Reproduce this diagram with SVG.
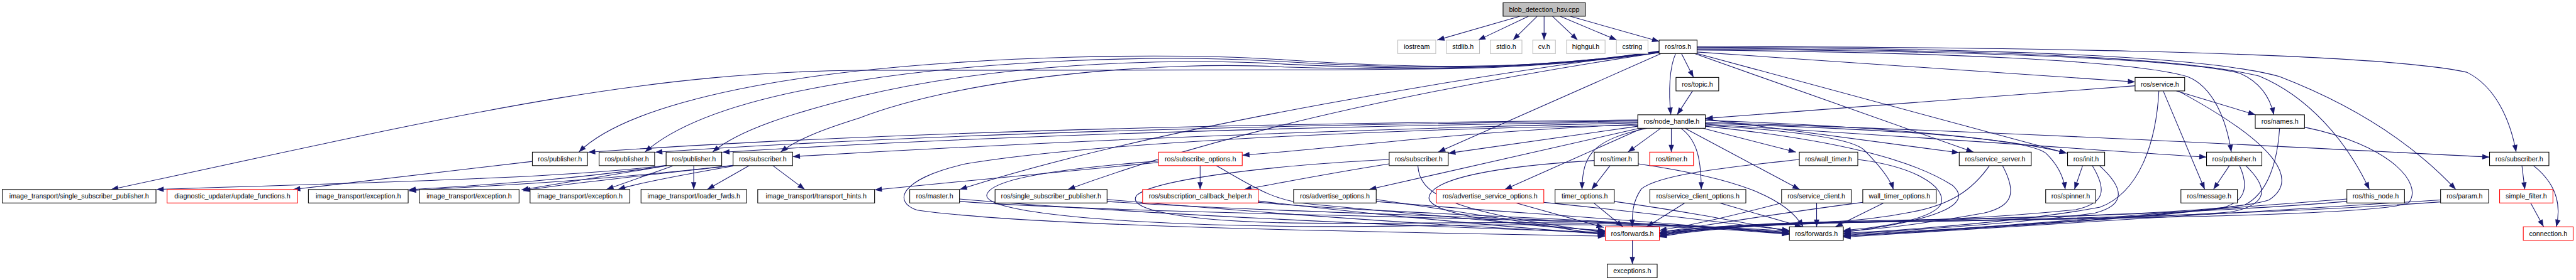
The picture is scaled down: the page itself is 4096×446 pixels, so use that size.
<svg xmlns="http://www.w3.org/2000/svg" width="4096" height="446" viewBox="0 0 4096 446">
<defs>
<marker id="a" markerWidth="15" markerHeight="11" refX="15" refY="5.5" orient="auto" markerUnits="userSpaceOnUse" overflow="visible"><path d="M0,0 L15,5.5 L0,11 z" fill="#191970"/></marker>
<style>
.e{fill:none;stroke:#191970;stroke-width:1.4;marker-end:url(#a)}
.n rect{fill:#fff;stroke:#000;stroke-width:1.4}
.g rect{stroke:#bfbfbf}
.r rect{stroke:#ff0000}
.b rect{fill:#bfbfbf}
text{font-family:"Liberation Sans",Arial,sans-serif;font-size:14px;text-anchor:middle;fill:#000}
</style>
</defs>
<rect width="4096" height="446" fill="#fff"/>
<g transform="scale(0.767616)">
<g id="edges">
<path class="e" d="M3148,34 L2977,83.2"/>
<path class="e" d="M3166,34 L3062,83.2"/>
<path class="e" d="M3184,34 L3134,83.2"/>
<path class="e" d="M3198.5,34 L3198.5,83.2"/>
<path class="e" d="M3216,34 L3268,83.2"/>
<path class="e" d="M3232,34 L3349,83.2"/>
<path class="e" d="M3253,34 L3437,86"/>
<path class="e" d="M3483,111.2 L3508,160.7"/>
<path class="e" d="M3471,111.2 C3458,140 3456,190 3461,238.2"/>
<path class="e" d="M3506,188.7 L3474,238.2"/>
<path class="e" d="M3441,111.2 L2979,315.7"/>
<path class="e" d="M3515.3,108 L4422.7,170"/>
<path class="e" d="M3515.3,111 L4281,318"/>
<path class="e" d="M3510,111.2 L4088,315.7"/>
<path class="e" d="M3437,107 C3100,150 2400,260 1988,393.2"/>
<path class="e" d="M3437,109 C3100,160 2600,250 2212,393.2"/>
<path class="e" d="M3437,108 C3150,146 2850,145 2660,145 L1780,146 C1300,150 900,250 230,393.2"/>
<path class="e" d="M3437,106 C3150,150 2900,140 2660,124 C2400,108 2050,118 1780,147 C1500,178 1280,235 1199,315.7"/>
<path class="e" d="M3437,107 C3150,150 2900,142 2660,128 C2400,112 2050,125 1780,167 C1560,200 1410,250 1336,315.7"/>
<path class="e" d="M3437,108 C3150,150 2900,144 2660,133 C2400,118 2050,135 1780,200 C1640,235 1530,270 1476,315.7"/>
<path class="e" d="M3437,109 C3150,150 2900,146 2660,139 C2400,125 2000,160 1780,245 C1700,270 1650,290 1617,315.7"/>
<path class="e" d="M3515.3,104 C4000,108 4420,125 4531,159 C4585,180 4612,250 4622,315.7"/>
<path class="e" d="M3515.3,102 C4000,105 4500,118 4640,152 C4680,170 4702,200 4710,238.2"/>
<path class="e" d="M3515.3,100 C4000,103 4500,113 4680,158 C4780,200 4860,290 4908,393.2"/>
<path class="e" d="M3515.3,98 C4000,100 4550,110 4722,159 C4880,220 5000,300 5087,393.2"/>
<path class="e" d="M3515.3,96 C4000,98 4900,103 5110,150 C5170,180 5200,250 5212,315.7"/>
<path class="e" d="M4422.7,178 L3533,245.7"/>
<path class="e" d="M4508,188.7 L4672,238.2"/>
<path class="e" d="M4481,188.7 L4567,393.2"/>
<path class="e" d="M4472,188.7 C4466,300 4430,400 4350,430 C4200,458 3950,478 3818.4,484"/>
<path class="e" d="M4512,188.7 C4700,290 4770,370 4700,415 C4600,450 3950,455 3800,460 C3600,465 3480,475 3437.3,486"/>
<path class="e" d="M4722,266.2 C4718,330 4700,400 4650,425 C4450,455 3950,480 3818.4,488"/>
<path class="e" d="M4773.7,264 C4950,300 5020,380 4990,420 C4950,450 4200,455 3800,462 C3600,466 3480,478 3437.3,488"/>
<path class="e" d="M4618,343.7 L4585,393.2"/>
<path class="e" d="M4639,343.7 C4660,390 4650,420 4600,432 C4400,458 3950,482 3818.4,490"/>
<path class="e" d="M4652,343.7 C4700,390 4700,425 4620,440 C4400,458 3950,458 3780,463 C3600,467 3480,478 3437.3,490"/>
<path class="e" d="M4314,343.7 L4297,393.2"/>
<path class="e" d="M4349,343.7 C4400,390 4405,425 4340,442 C4200,462 3950,478 3818.4,486"/>
<path class="e" d="M4334,343.7 C4365,395 4360,422 4300,435 C4100,455 3950,458 3790,463 C3600,468 3480,480 3437.3,484"/>
<path class="e" d="M4148,343.7 C4178,400 4170,428 4110,442 C4000,462 3900,475 3818.4,480"/>
<path class="e" d="M4121,343.7 C4085,395 4040,425 3960,440 C3900,452 3850,458 3780,461 C3600,466 3480,476 3437.3,482"/>
<path class="e" d="M4861.4,413 C4500,440 4000,482 3818.4,490"/>
<path class="e" d="M4861.4,418 C4500,448 4000,457 3780,462 C3600,467 3480,480 3437.3,490"/>
<path class="e" d="M5055.5,415 C4600,442 4000,484 3818.4,492"/>
<path class="e" d="M5055.5,419 C4600,452 4000,458 3780,463 C3600,468 3480,482 3437.3,492"/>
<path class="e" d="M3727.2,331 C3600,345 3440,360 3400,392 C3380,420 3381,450 3381,470.7"/>
<path class="e" d="M3848.3,331 C3960,345 4035,385 4020,425 C4000,455 3900,472 3818.4,478"/>
<path class="e" d="M3532.5,262 C3800,290 3960,330 4045,385 C4090,425 4010,458 3818.4,482"/>
<path class="e" d="M3335,343.7 L3297,393.2"/>
<path class="e" d="M3393.6,340 C3600,370 3700,410 3735,470.7"/>
<path class="e" d="M3302.4,333 C3100,345 2965,370 2960,410 C2958,440 3100,468 3325,478"/>
<path class="e" d="M2877.6,340 C2750,360 2650,380 2577,393.2"/>
<path class="e" d="M2937,343.7 C2940,400 2990,440 3325,482"/>
<path class="e" d="M2877.6,331 C2600,345 2390,375 2355,405 C2330,435 2450,460 2700,463 C3000,466 3300,450 3706.6,484"/>
<path class="e" d="M2486,343.7 L2486,393.2"/>
<path class="e" d="M2399.8,337 L1811.7,394"/>
<path class="e" d="M2519.5,343.7 C2600,390 2640,418 2720,424 C2900,440 3200,470 3325,480"/>
<path class="e" d="M2399.8,334 C2200,350 2050,370 2044,405 C2040,440 2300,466 2700,470 C3000,472 3300,452 3706.6,486"/>
<path class="e" d="M3392.5,260 C3000,265 2300,290 2000,340 C1860,372 1850,420 1900,436 C2150,472 2900,482 3325,490"/>
<path class="e" d="M1987.5,413 C2300,440 2900,470 3325,482"/>
<path class="e" d="M1987.5,418 C2400,448 3300,450 3706.6,480"/>
<path class="e" d="M2293.2,414 C2600,440 3000,470 3325,484"/>
<path class="e" d="M2293.2,418 C2700,445 3300,452 3706.6,482"/>
<path class="e" d="M2606.2,417 C2800,440 3100,470 3325,486"/>
<path class="e" d="M2606.2,420 C2900,445 3300,452 3706.6,484"/>
<path class="e" d="M2850.7,414 C3000,435 3200,468 3325,488"/>
<path class="e" d="M2850.7,418 C3100,440 3350,452 3706.6,486"/>
<path class="e" d="M3140,421.2 L3322,472"/>
<path class="e" d="M3197.9,420 C3400,440 3550,460 3706.6,478"/>
<path class="e" d="M3301.5,421.2 L3362,470.7"/>
<path class="e" d="M3343.8,418 C3500,440 3600,460 3706.6,480"/>
<path class="e" d="M3490,421.2 L3411,470.7"/>
<path class="e" d="M3562,421.2 L3733,470.7"/>
<path class="e" d="M3690.4,421 C3600,445 3500,468 3437.3,478"/>
<path class="e" d="M3763,421.2 L3763,470.7"/>
<path class="e" d="M3858.6,420 C3700,440 3520,470 3437.3,482"/>
<path class="e" d="M3902,421.2 L3802,470.7"/>
<path class="e" d="M3392.5,249 C2800,254 1900,268 1218,316"/>
<path class="e" d="M3392.5,251 C2800,257 2000,272 1357,316"/>
<path class="e" d="M3392.5,253 C2800,261 2100,278 1496,316"/>
<path class="e" d="M3392.5,255 C2800,268 2200,292 1642,325"/>
<path class="e" d="M3392.5,258 C3000,275 2800,305 2573.2,322"/>
<path class="e" d="M3392.5,262 L3000,318"/>
<path class="e" d="M3396,266.2 L2836,393.2"/>
<path class="e" d="M3402,266.2 L3117,393.2"/>
<path class="e" d="M3440,266.2 L3372,315.7"/>
<path class="e" d="M3462,266.2 L3462,315.7"/>
<path class="e" d="M3412,266.2 C3300,290 3278,320 3277,393.2"/>
<path class="e" d="M3482,266.2 C3515,290 3524,330 3524,393.2"/>
<path class="e" d="M3527,266.2 L3720,315.7"/>
<path class="e" d="M3490,266.2 L3728,393.2"/>
<path class="e" d="M3532.5,260 C3700,270 3830,285 3860,310 C3890,340 3915,370 3922,393.2"/>
<path class="e" d="M3532.5,247 L4058.4,317"/>
<path class="e" d="M3532.5,250 C3900,262 4180,290 4281,318"/>
<path class="e" d="M3532.5,256 C3900,268 4210,285 4240,320 C4265,345 4275,370 4278,393.2"/>
<path class="e" d="M3532.5,258 C4000,285 4400,316 4570.7,326"/>
<path class="e" d="M3532.5,254 C4200,275 4800,308 5156.9,326"/>
<path class="e" d="M5224,343.7 L5230,393.2"/>
<path class="e" d="M5248,343.7 C5300,385 5305,430 5295,470.7"/>
<path class="e" d="M5242,421.2 L5269,470.7"/>
<path class="e" d="M3381.3,498.7 L3381.3,548.2"/>
<path class="e" d="M1102.7,335 L607,393.2"/>
<path class="e" d="M1380.6,343 C1150,372 700,380 324,393.2"/>
<path class="e" d="M1380.6,344 C1150,378 950,386 846,394"/>
<path class="e" d="M1518.5,343 C1200,380 950,388 847,396"/>
<path class="e" d="M1380.6,344 C1250,365 1150,382 1080,394"/>
<path class="e" d="M1518.5,343.5 C1300,368 1150,384 1084,396"/>
<path class="e" d="M1393,344.6 L1256,393.2"/>
<path class="e" d="M1518.5,344.5 C1400,365 1320,380 1280,393.2"/>
<path class="e" d="M1437,343.7 L1437,393.2"/>
<path class="e" d="M1552,343.7 L1465,393.2"/>
<path class="e" d="M1601,343.7 L1667,393.2"/>
</g>
<g id="n0" class="n b"><rect x="3113.5" y="5.7" width="170.5" height="28"/><text x="3198.75" y="24.7">blob_detection_hsv.cpp</text></g>
<g id="n1" class="n g"><rect x="2895.4" y="83.2" width="78.7" height="28"/><text x="2934.75" y="102.2">iostream</text></g>
<g id="n2" class="n g"><rect x="2996.4" y="83.2" width="68.3" height="28"/><text x="3030.55" y="102.2">stdlib.h</text></g>
<g id="n3" class="n g"><rect x="3087.1" y="83.2" width="65.5" height="28"/><text x="3119.85" y="102.2">stdio.h</text></g>
<g id="n4" class="n g"><rect x="3175" y="83.2" width="47" height="28"/><text x="3198.5" y="102.2">cv.h</text></g>
<g id="n5" class="n g"><rect x="3245" y="83.2" width="79.8" height="28"/><text x="3284.9" y="102.2">highgui.h</text></g>
<g id="n6" class="n g"><rect x="3348.3" y="83.2" width="65.4" height="28"/><text x="3381" y="102.2">cstring</text></g>
<g id="n7" class="n"><rect x="3436.7" y="83.2" width="78.6" height="28"/><text x="3476" y="102.2">ros/ros.h</text></g>
<g id="n8" class="n"><rect x="3471.7" y="160.7" width="88.5" height="28"/><text x="3515.95" y="179.7">ros/topic.h</text></g>
<g id="n9" class="n"><rect x="4422.7" y="160.7" width="102.7" height="28"/><text x="4474.05" y="179.7">ros/service.h</text></g>
<g id="n10" class="n"><rect x="3392.5" y="238.2" width="140" height="28"/><text x="3462.5" y="257.2">ros/node_handle.h</text></g>
<g id="n11" class="n"><rect x="4671.6" y="238.2" width="102.1" height="28"/><text x="4722.65" y="257.2">ros/names.h</text></g>
<g id="n12" class="n"><rect x="1102.7" y="315.7" width="114.2" height="28"/><text x="1159.8" y="334.7">ros/publisher.h</text></g>
<g id="n13" class="n"><rect x="1241" y="315.7" width="115" height="28"/><text x="1298.5" y="334.7">ros/publisher.h</text></g>
<g id="n14" class="n"><rect x="1379.8" y="315.7" width="115.2" height="28"/><text x="1437.4" y="334.7">ros/publisher.h</text></g>
<g id="n15" class="n"><rect x="1518.5" y="315.7" width="123.3" height="28"/><text x="1580.15" y="334.7">ros/subscriber.h</text></g>
<g id="n16" class="n r"><rect x="2399.8" y="315.7" width="173.4" height="28"/><text x="2486.5" y="334.7">ros/subscribe_options.h</text></g>
<g id="n17" class="n"><rect x="2877.6" y="315.7" width="122.3" height="28"/><text x="2938.75" y="334.7">ros/subscriber.h</text></g>
<g id="n18" class="n"><rect x="3302.4" y="315.7" width="91.2" height="28"/><text x="3348" y="334.7">ros/timer.h</text></g>
<g id="n19" class="n r"><rect x="3417.2" y="315.7" width="90.7" height="28"/><text x="3462.55" y="334.7">ros/timer.h</text></g>
<g id="n20" class="n"><rect x="3727.2" y="315.7" width="121.1" height="28"/><text x="3787.75" y="334.7">ros/wall_timer.h</text></g>
<g id="n21" class="n"><rect x="4058.4" y="315.7" width="149.2" height="28"/><text x="4133" y="334.7">ros/service_server.h</text></g>
<g id="n22" class="n"><rect x="4282.8" y="315.7" width="76.9" height="28"/><text x="4321.25" y="334.7">ros/init.h</text></g>
<g id="n23" class="n"><rect x="4570.7" y="315.7" width="114.6" height="28"/><text x="4628" y="334.7">ros/publisher.h</text></g>
<g id="n24" class="n"><rect x="5156.9" y="315.7" width="123" height="28"/><text x="5218.4" y="334.7">ros/subscriber.h</text></g>
<g id="n25" class="n"><rect x="4.6" y="393.2" width="318.5" height="28"/><text x="163.85" y="412.2">image_transport/single_subscriber_publisher.h</text></g>
<g id="n26" class="n r"><rect x="346.1" y="393.2" width="270.4" height="28"/><text x="481.3" y="412.2">diagnostic_updater/update_functions.h</text></g>
<g id="n27" class="n"><rect x="638.8" y="393.2" width="206.7" height="28"/><text x="742.15" y="412.2">image_transport/exception.h</text></g>
<g id="n28" class="n"><rect x="868.4" y="393.2" width="206.8" height="28"/><text x="971.8" y="412.2">image_transport/exception.h</text></g>
<g id="n29" class="n"><rect x="1098" y="393.2" width="206.7" height="28"/><text x="1201.35" y="412.2">image_transport/exception.h</text></g>
<g id="n30" class="n"><rect x="1327.8" y="393.2" width="218.7" height="28"/><text x="1437.15" y="412.2">image_transport/loader_fwds.h</text></g>
<g id="n31" class="n"><rect x="1569.6" y="393.2" width="242.1" height="28"/><text x="1690.65" y="412.2">image_transport/transport_hints.h</text></g>
<g id="n32" class="n"><rect x="1884.5" y="393.2" width="103" height="28"/><text x="1936" y="412.2">ros/master.h</text></g>
<g id="n33" class="n"><rect x="2061.2" y="393.2" width="232" height="28"/><text x="2177.2" y="412.2">ros/single_subscriber_publisher.h</text></g>
<g id="n34" class="n r"><rect x="2366.8" y="393.2" width="239.4" height="28"/><text x="2486.5" y="412.2">ros/subscription_callback_helper.h</text></g>
<g id="n35" class="n"><rect x="2679.6" y="393.2" width="171.1" height="28"/><text x="2765.15" y="412.2">ros/advertise_options.h</text></g>
<g id="n36" class="n r"><rect x="2975.2" y="393.2" width="222.7" height="28"/><text x="3086.55" y="412.2">ros/advertise_service_options.h</text></g>
<g id="n37" class="n"><rect x="3221.2" y="393.2" width="122.6" height="28"/><text x="3282.5" y="412.2">timer_options.h</text></g>
<g id="n38" class="n"><rect x="3417.5" y="393.2" width="198.9" height="28"/><text x="3516.95" y="412.2">ros/service_client_options.h</text></g>
<g id="n39" class="n"><rect x="3690.4" y="393.2" width="144.2" height="28"/><text x="3762.5" y="412.2">ros/service_client.h</text></g>
<g id="n40" class="n"><rect x="3858.6" y="393.2" width="152.2" height="28"/><text x="3934.7" y="412.2">wall_timer_options.h</text></g>
<g id="n41" class="n"><rect x="4237.5" y="393.2" width="103.3" height="28"/><text x="4289.15" y="412.2">ros/spinner.h</text></g>
<g id="n42" class="n"><rect x="4517.6" y="393.2" width="117" height="28"/><text x="4576.1" y="412.2">ros/message.h</text></g>
<g id="n43" class="n"><rect x="4861.4" y="393.2" width="119.4" height="28"/><text x="4921.1" y="412.2">ros/this_node.h</text></g>
<g id="n44" class="n"><rect x="5055.5" y="393.2" width="99.6" height="28"/><text x="5105.3" y="412.2">ros/param.h</text></g>
<g id="n45" class="n r"><rect x="5177.8" y="393.2" width="110.4" height="28"/><text x="5233" y="412.2">simple_filter.h</text></g>
<g id="n46" class="n r"><rect x="3325.3" y="470.7" width="112" height="28"/><text x="3381.3" y="489.7">ros/forwards.h</text></g>
<g id="n47" class="n"><rect x="3706.6" y="470.7" width="111.8" height="28"/><text x="3762.5" y="489.7">ros/forwards.h</text></g>
<g id="n48" class="n r"><rect x="5226.8" y="470.7" width="103.3" height="28"/><text x="5278.45" y="489.7">connection.h</text></g>
<g id="n49" class="n"><rect x="3329.3" y="548.2" width="103.4" height="28"/><text x="3381" y="567.2">exceptions.h</text></g>
</g>
</svg>
